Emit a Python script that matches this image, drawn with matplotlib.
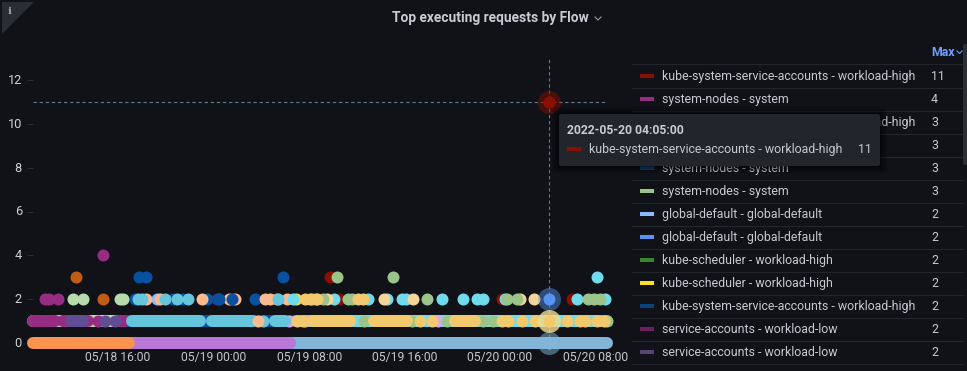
import matplotlib
matplotlib.use("Agg")
import matplotlib.pyplot as plt
from matplotlib.patches import FancyBboxPatch, Polygon, Rectangle
from matplotlib.transforms import ScaledTranslation

plt.rcParams['font.family'] = ['Roboto', 'DejaVu Sans']

# ---- data: time is counted in 5-minute samples since 05/18 09:05 ----
y_ticks = [0, 2, 4, 6, 8, 10, 12]
x_tick_samples = [85, 181, 277, 372, 467, 563]
x_tick_labels = ['05/18 16:00', '05/19 00:00', '05/19 08:00', '05/19 16:00', '05/20 00:00', '05/20 08:00']
hover_sample = 516
hover_label = '2022-05-20 04:05:00'
hover_value = 11

# continuous runs (start sample, end sample)
runs0_orange = [(0, 96)]
runs0_purple = [(96, 257)]
runs0_blue = [(257, 574)]
runs1_lightgreen = [(0, 92)]
runs1_darkblue = [(94, 257)]
runs1_green = [(263, 574)]
runs1_cyan2 = [(275, 565)]
runs1_magenta = [(0, 22), (30, 55), (85, 92)]
runs1_mauve = [(38, 50)]
runs1_cyan = [(99, 167), (179, 220), (242, 252)]
runs1_gold = [(280, 317), (341, 374), (422, 442)]

# samples with value 1
v1_magenta = [65]
v1_mauve = [72, 82]
v1_peach = [225]
v1_cyan = [230]
v1_lilac = [256, 272, 405]
v1_green = [331, 379, 414, 450, 460, 574]
v1_gold = [264, 270, 387, 399, 469, 475, 489, 502, 516, 534, 547, 552, 564, 571]

# samples with value 2
v2_magenta = [12, 16, 25]
v2_lightgreen = [40, 50, 87, 90]
v2_orange = [70]
v2_purple = [184]
v2_darkblue = [102, 140, 150, 174, 186, 199, 222]
v2_lightblue = [124]
v2_peach = [113, 127, 169, 196, 202, 232, 237, 244, 254]
v2_cyan = [105, 109, 132, 144, 155, 245]
v2_yellow = [263]
v2_cyan2 = [260, 301, 335, 354, 369, 373, 409, 430, 444, 450, 472, 544, 572]
v2_red = [306, 469, 539, 560]
v2_pale = [294, 351, 380, 487, 501]
v2_green = [279, 290, 315, 319, 394, 474, 484, 555, 561, 567]
v2_gold = [272, 277, 283, 284, 325, 330]
v2_blue = [516]

# samples with value 3, 4 and 11
v3_orange = [43]
v3_darkblue = [106, 113, 250]
v3_red = [297]
v3_green = [304, 360]
v3_cyan2 = [564]
v4_magenta = [70]
v11_red = [516]

legend_colors = ['#890F02', '#962D82', '#BF1B00', '#E0752D', '#0A437C', '#9AC48A', '#8AB8FF',
                 '#5794F2', '#37872D', '#FADE2A', '#0A437C', '#6D1F62', '#584477']
legend_labels = ['kube-system-service-accounts - workload-high', 'system-nodes - system',
                 'kube-system-service-accounts - workload-high', '',
                 'system-nodes - system', 'system-nodes - system',
                 'global-default - global-default', 'global-default - global-default',
                 'kube-scheduler - workload-high', 'kube-scheduler - workload-high',
                 'kube-system-service-accounts - workload-high',
                 'service-accounts - workload-low', 'service-accounts - workload-low']
legend_max = [11, 4, 3, 3, 3, 3, 2, 2, 2, 2, 2, 2, 2]

# ---- layout ----
W, H = 967, 371
BG = '#111217'
TXT = '#c7c8d2'
fig = plt.figure(figsize=(W / 100, H / 100), dpi=100, facecolor=BG)
L, R, T, B = 33, 607, 57, 350
ax = fig.add_axes([L / W, 1 - B / H, (R - L) / W, (B - T) / H], facecolor=BG)
ax.set_xlim(0, R - L)
ax.set_ylim((343 - B) / 21.9, (343 - T) / 21.9)
for s in ax.spines.values():
    s.set_visible(False)
ax.set_yticks(y_ticks)
ax.set_xticks(x_tick_samples, x_tick_labels)
ax.tick_params(axis='y', length=4, width=0.7, color='#2b2e34', labelcolor='#cfd0d8', labelsize=9.2, pad=4)
ax.tick_params(axis='x', length=0, labelcolor='#c4c5cf', labelsize=8.7, pad=1)
for lab in ax.get_yticklabels():
    lab.set_transform(lab.get_transform() + ScaledTranslation(0, 0.8 / 72, fig.dpi_scale_trans))

DOT = 12 * 0.72


def draw_runs(runs, y, color, z):
    for a, b in runs:
        ax.plot([a, b], [y, y], color=color, lw=DOT, solid_capstyle='round', zorder=z, clip_on=False)


def draw_dots(xs, y, color, z):
    ax.plot(xs, [y] * len(xs), ls='none', marker='o', ms=DOT, mfc=color, mec='none', zorder=z, clip_on=False)


draw_runs(runs0_blue, 0, '#82B5D8', 2)
draw_runs(runs0_purple, 0, '#B877D9', 3)
draw_runs(runs0_orange, 0, '#F9934E', 4)

draw_runs(runs1_lightgreen, 1, '#B7DBAB', 2)
draw_runs(runs1_darkblue, 1, '#0A50A1', 2)
draw_runs(runs1_green, 1, '#9AC48A', 2)
draw_runs(runs1_cyan2, 1, '#70DBED', 3)
draw_runs(runs1_magenta, 1, '#962D82', 4)
draw_runs(runs1_mauve, 1, '#614D93', 5)
draw_runs(runs1_cyan, 1, '#65C5DB', 5)
draw_runs(runs1_gold, 1, '#F2C96D', 6)
draw_dots(v1_magenta, 1, '#962D82', 4)
draw_dots(v1_mauve, 1, '#614D93', 5)
draw_dots(v1_peach, 1, '#F9BA8F', 5.5)
draw_dots(v1_cyan, 1, '#65C5DB', 5)
draw_dots(v1_lilac, 1, '#D8A8EA', 4)
draw_dots(v1_green, 1, '#9AC48A', 5)
draw_dots(v1_gold, 1, '#F2C96D', 6)

draw_dots(v2_magenta, 2, '#962D82', 3)
draw_dots(v2_purple, 2, '#6D1F62', 3)
draw_dots(v2_lightgreen, 2, '#B7DBAB', 4)
draw_dots(v2_orange, 2, '#C15C17', 4)
draw_dots(v2_darkblue, 2, '#0A50A1', 3.5)
draw_dots(v2_lightblue, 2, '#8AB8FF', 3.6)
draw_dots(v2_peach, 2, '#F9BA8F', 3.7)
draw_dots([186, 199], 2, '#0A50A1', 3.8)
draw_dots(v2_cyan, 2, '#65C5DB', 4)
draw_dots(v2_yellow, 2, '#FADE2A', 3.9)
draw_dots(v2_red, 2, '#890F02', 3.9)
draw_dots(v2_cyan2, 2, '#70DBED', 4)
draw_dots(v2_pale, 2, '#F4D598', 4.1)
draw_dots(v2_green, 2, '#9AC48A', 4.5)
draw_dots(v2_gold, 2, '#F2C96D', 5)

draw_dots(v3_orange, 3, '#C15C17', 4)
draw_dots(v3_darkblue, 3, '#0A50A1', 4)
draw_dots(v3_red, 3, '#890F02', 4)
draw_dots(v3_green, 3, '#9AC48A', 5)
draw_dots(v3_cyan2, 3, '#70DBED', 4)
draw_dots(v4_magenta, 4, '#962D82', 4)
draw_dots(v11_red, 11, '#890F02', 8)

# hover crosshair and halos
DASH = '#5d7c90'
ax.axvline(hover_sample, color=DASH, lw=0.8, ls=(0, (3, 2.5)), zorder=1)
ax.axhline(hover_value, color=DASH, lw=0.8, ls=(0, (3, 2.5)), zorder=1)
for yv, c, a in [(0, '#82B5D8', 0.5), (2, '#5794F2', 0.45), (11, '#890F02', 0.45), (1, '#F2DC8D', 0.8)]:
    ax.plot([hover_sample], [yv], ls='none', marker='o', ms=23 * 0.72, mfc=c, mec='none', alpha=a,
            zorder=9 + 0.5 * (yv == 1), clip_on=False)
    core = '#F2C96D' if yv == 1 else c
    ax.plot([hover_sample], [yv], ls='none', marker='o', ms=12 * 0.72, mfc=core, mec='none', zorder=10,
            clip_on=False)

# ---- decorations in pixel coordinates ----
ov = fig.add_axes([0, 0, 1, 1], facecolor='none')
ov.set_xlim(0, W)
ov.set_ylim(H, 0)
ov.axis('off')
ov.text(490, 18, 'Top executing requests by Flow', color='#c9cad4', fontsize=9.9, fontweight='bold',
        ha='center', va='center')
ov.plot([595, 598, 601], [17, 20, 17], color='#9a9ba5', lw=0.8)
ov.add_patch(Polygon([(2, 2), (34, 2), (2, 34)], closed=True, fc='#2a2d33', ec='none'))
ov.text(10, 11, 'i', color='#a8a9b0', fontsize=7.5, fontweight='bold', family='DejaVu Serif',
        ha='center', va='center')

ov.text(931, 56, 'Max', color='#6E9FFF', fontsize=8.9, fontweight='bold', ha='left', va='baseline')
ov.plot([957, 959.5, 962], [51, 53.5, 51], color='#6E9FFF', lw=0.8)
ov.plot([632, 963], [64, 64], color='#22252b', lw=0.8)
for i, (c, lab, m) in enumerate(zip(legend_colors, legend_labels, legend_max)):
    yc = 76 + 23 * i
    ov.add_patch(Rectangle((640, yc - 2), 14, 4, fc=c, ec='none', zorder=2))
    ov.text(662, yc + 4, lab, color=TXT, fontsize=8.9, ha='left', va='baseline', zorder=2)
    ov.text(931, yc + 4, str(m), color=TXT, fontsize=8.9, ha='left', va='baseline', zorder=2)
    ov.plot([632, 963], [yc + 11.5, yc + 11.5], color='#22252b', lw=0.8, zorder=1)
ov.add_patch(FancyBboxPatch((963, 44), 6, 121, boxstyle='round,pad=0,rounding_size=2', fc='#2c2e34', ec='none', zorder=3))

# tooltip
for grow, a in [(7, 0.12), (5, 0.15), (3, 0.2), (1, 0.25)]:
    ov.add_patch(FancyBboxPatch((559 - grow, 114 - grow), 321 + 2 * grow, 52 + 2 * grow,
                                boxstyle='round,pad=0,rounding_size=3', fc='#000000', ec='none', alpha=a, zorder=4))
ov.add_patch(FancyBboxPatch((559, 114), 321, 52, boxstyle='round,pad=0,rounding_size=2',
                            fc='#22252b', ec='none', zorder=5))
ov.text(567, 134.5, hover_label, color='#c9cad4', fontsize=8.7, fontweight='bold', ha='left', va='baseline', zorder=6)
ov.add_patch(Rectangle((567, 147), 14, 4, fc=legend_colors[0], ec='none', zorder=6))
ov.text(589, 153, legend_labels[0], color=TXT, fontsize=8.9, ha='left', va='baseline', zorder=6)
ov.text(858, 153, str(hover_value), color=TXT, fontsize=8.9, ha='left', va='baseline', zorder=6)

fig.savefig('out.png', dpi=100, facecolor=BG)
